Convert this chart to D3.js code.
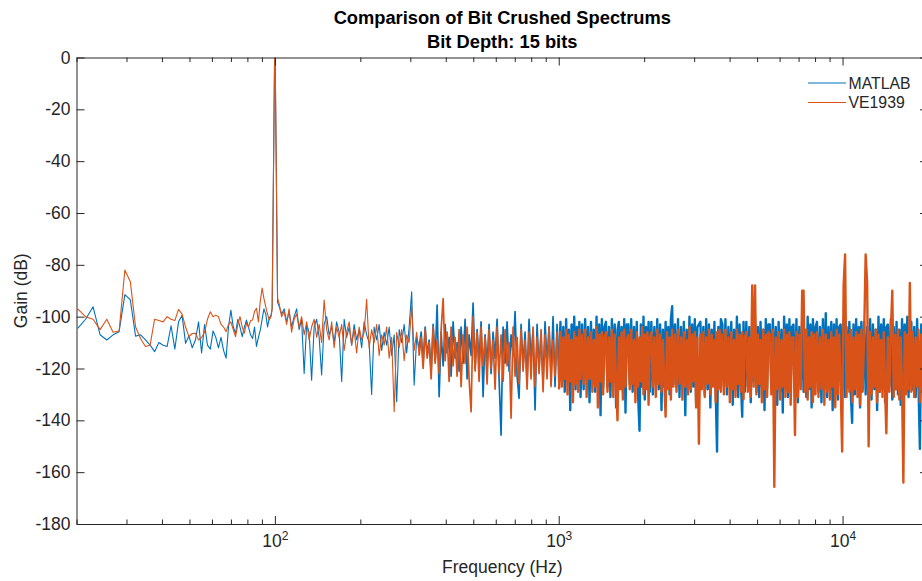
<!DOCTYPE html>
<html>
<head>
<meta charset="utf-8">
<script src="https://cdn.jsdelivr.net/npm/d3@7"></script>
<style>
  body { margin: 0; background: #fff; }
  svg { display: block; font-family: "Liberation Sans", Arial, Helvetica, sans-serif; }
</style>
</head>
<body>
<div id="chart"></div>
<script>
// ---- data ----
const titleLines = ["Comparison of Bit Crushed Spectrums", "Bit Depth: 15 bits"];
const seriesNames = ["MATLAB", "VE1939"];
const seriesColors = ["#0072BD", "#D95319"];

const xMajorTicks = [100, 1000, 10000];
const xMinorTicks = [20, 30, 40, 50, 60, 70, 80, 90, 200, 300, 400, 500, 600, 700, 800, 900,
  2000, 3000, 4000, 5000, 6000, 7000, 8000, 9000, 20000];
const yTicks = [-180, -160, -140, -120, -100, -80, -60, -40, -20, 0];

// 20 Hz .. 102 Hz
const freqLow = [20.19, 21.53, 22.88, 24.22, 25.57, 26.92, 28.26, 29.61, 30.95, 32.30, 33.65, 34.99,
  36.34, 37.68, 39.03, 40.37, 41.72, 43.07, 44.41, 45.76, 47.10, 48.45, 49.79, 51.14, 52.49, 53.83,
  55.18, 56.52, 57.87, 59.22, 60.56, 61.91, 63.25, 64.60, 65.94, 67.29, 68.64, 69.98, 71.33, 72.67,
  74.02, 75.36, 76.71, 78.06, 79.40, 80.75, 82.09, 83.44, 84.79, 86.13, 87.48, 88.82, 90.17, 91.51,
  92.86, 94.21, 95.55, 96.90, 97.8, 99.75, 100.25, 102.2];
const matlabLow = [-104.5, -101, -96.2, -107, -109, -107, -105.8, -91.5, -93.5, -107.5, -107, -109,
  -111, -113.5, -110, -111, -111.5, -103.5, -112.5, -102, -99.5, -110.3, -107.5, -112, -109, -102,
  -114, -103, -111, -112.5, -105.5, -108, -112, -108, -113, -116, -104, -97.5, -104, -106.4,
  -101, -104, -107.7, -104, -101.3, -104, -107, -108.4, -104, -111.5, -108, -105.2, -101, -97,
  -99, -104, -100.5, -99.5, -97, -0.4, -0.4, -94.5];
const ve1939Low = [-97, -100, -101, -105, -101, -106, -105.5, -82, -86.5, -104, -108.5, -111.5,
  -111, -101, -101.5, -102, -100, -101, -101.5, -97.2, -99, -104, -107.7, -106.5, -106.4, -109,
  -108, -106, -101, -98.1, -100, -99.4, -100, -103, -104, -105.8, -103, -102, -105, -107.7,
  -103, -100, -104, -106.4, -102.6, -104, -101.5, -101.3, -98, -96.8, -102, -94, -89, -93,
  -96.2, -99, -101.3, -100, -97, -0.3, -0.3, -93];

// 103 Hz .. 322 Hz
const freqMidA = [103.5, 105.6, 107.8, 110, 112.2, 114.5, 116.9, 119.3, 121.7, 124.2, 126.8, 129.4,
  132, 134.7, 137.5, 140.3, 143.2, 146.1, 149.1, 152.2, 155.3, 158.5, 161.7, 165, 168.4, 171.9,
  175.4, 179, 182.7, 186.4, 190.2, 194.1, 198.1, 202.2, 206.3, 210.5, 214.8, 219.2, 223.7, 228.3,
  233, 237.8, 242.6, 247.6, 252.7, 257.9, 263.2, 268.6, 274.1, 279.7, 285.4, 291.3, 297.2, 303.3,
  309.5, 315.9, 322.3];
const matlabMidA = [-96, -99, -97, -102, -98, -104, -100, -97, -105, -101, -121.9, -103,
  -106, -124.5, -104, -101, -108, -122.5, -103, -100, -107, -104, -110, -102, -106, -125,
  -101, -108, -104, -111, -103, -109, -105, -112, -102, -107, -110, -130, -104, -109,
  -103, -113, -106, -111, -104, -115, -107, -132.8, -105, -110, -103, -114, -104, -90.4,
  -126.4, -108, -112];
const ve1939MidA = [-95, -100, -98, -103, -97, -106, -101, -99, -104, -100, -107, -102,
  -109, -104, -101, -108, -103, -110, -93.6, -105, -109, -102, -112, -104, -108, -103,
  -113, -106, -102, -111, -105, -114, -104, -109, -106, -93.3, -112, -105, -110, -103,
  -115, -107, -111, -104, -116, -108, -136.7, -106, -112, -105, -117, -107, -110, -96,
  -113, -106, -115];

// 327 Hz .. 1 kHz
const freqMidB = [327.6, 332.9, 338.4, 343.9, 349.5, 355.2, 361, 366.9, 372.9, 379, 385.2, 391.5,
  397.9, 404.4, 411, 417.7, 424.5, 431.4, 438.5, 445.7, 453, 460.4, 467.9, 475.5, 483.3, 491.2,
  499.2, 507.4, 515.7, 524.1, 532.7, 541.4, 550.2, 559.2, 568.3, 577.6, 587.1, 596.7, 606.5, 616.4,
  626.5, 636.7, 647.1, 657.7, 668.5, 679.4, 690.5, 701.8, 713.3, 724.9, 736.8, 748.8, 761, 773.5,
  786.1, 799, 812, 825.3, 838.8, 852.5, 866.5, 880.6, 895, 909.7, 924.5, 939.7, 955, 970.6,
  986.5, 1002.6];
const matlabMidB = [-106, -118, -104, -115, -109, -121, -103, -117, -95.5, -130.9, -106, -119,
  -103, -114, -108, -123, -102, -116, -110, -121, -104, -118, -101, -124, -107, -115,
  -94.8, -120, -105, -117, -102, -130.9, -107, -119, -103, -122, -106, -116, -101, -124,
  -145.7, -104, -118, -102, -121, -107, -115, -98, -123, -131.5, -103, -119, -106, -125,
  -101, -117, -105, -136, -103, -120, -107, -126, -102, -118, -104, -122, -100, -127,
  -103, -119];
const ve1939MidB = [-108, -120, -105, -116, -110, -124, -104, -118, -109, -122, -105, -93,
  -117, -106, -125, -104, -119, -108, -123, -105, -127, -107, -118, -104, -124, -136.7,
  -100, -121, -106, -125, -104, -119, -108, -126, -105, -120, -109, -128, -104, -122,
  -107, -125, -105, -119, -110, -139.2, -104, -123, -108, -126, -105, -121, -109, -128,
  -106, -124, -104, -127, -108, -122, -105, -129, -107, -124, -104, -127, -109, -123,
  -106, -128];

// 1 kHz .. 20 kHz
const freqHigh = [
  1014, 1026, 1038, 1050, 1062, 1074, 1086, 1098, 1110, 1122, 1134, 1146, 1158, 1170, 1182, 1194,
  1209, 1224, 1239, 1254, 1269, 1284, 1299, 1314, 1329, 1344, 1359, 1374, 1389, 1404, 1419, 1434, 1449,
  1467, 1485, 1503, 1521, 1539, 1557, 1575, 1593, 1611, 1629, 1647, 1665, 1683, 1701, 1719, 1737,
  1758, 1779, 1800, 1821, 1842, 1863, 1884, 1905, 1926, 1947, 1968, 1989, 2010, 2031, 2052, 2073, 2094,
  2120, 2146, 2172, 2198, 2224, 2250, 2276, 2302, 2328, 2354, 2380, 2406, 2432, 2458, 2484, 2510, 2536,
  2568, 2600, 2632, 2664, 2696, 2728, 2760, 2792, 2824, 2856, 2888, 2920, 2952, 2984, 3016, 3048, 3080,
  3118, 3156, 3194, 3232, 3270, 3308, 3346, 3384, 3422, 3460, 3498, 3536, 3574, 3612, 3650, 3688, 3726,
  3773, 3820, 3867, 3914, 3961, 4008, 4055, 4102, 4149, 4196, 4243, 4290, 4337, 4384, 4431, 4478, 4525,
  4581, 4637, 4693, 4749, 4805, 4861, 4917, 4973, 5029, 5085, 5141, 5197, 5253, 5309, 5365, 5421, 5477,
  5545, 5613, 5681, 5749, 5817, 5885, 5953, 6021, 6089, 6157, 6225, 6293, 6361, 6429, 6497, 6565, 6633,
  6715, 6797, 6879, 6961, 7043, 7125, 7207, 7289, 7371, 7453, 7535, 7617, 7699, 7781, 7863, 7945, 8027,
  8127, 8227, 8327, 8427, 8527, 8627, 8727, 8827, 8927, 9027, 9127, 9227, 9327, 9427, 9527, 9627, 9727,
  9847, 9967, 10087, 10207, 10327, 10447, 10567, 10687, 10807, 10927, 11047, 11167, 11287, 11407, 11527, 11647, 11767,
  11914, 12061, 12208, 12355, 12502, 12649, 12796, 12943, 13090, 13237, 13384, 13531, 13678, 13825, 13972, 14119, 14266,
  14442, 14618, 14794, 14970, 15146, 15322, 15498, 15674, 15850, 16026, 16202, 16378, 16554, 16730, 16906, 17082, 17258,
  17468, 17678, 17888, 18098, 18308, 18518, 18728, 18938, 19148, 19358, 19568, 19778, 19988];
const matlabHigh = [
  -102, -125, -104, -129, -101, -123, -105, -136, -103, -126, -100, -128, -104, -124, -102, -131,
  -103, -128, -101, -124, -104, -133, -102, -126, -105, -129, -100, -125, -103, -138, -101, -127, -104,
  -102, -127, -104, -131, -101, -124, -103, -135, -105, -102, -126, -104, -129, -101, -137, -103,
  -103, -126, -101, -129, -104, -125, -102, -131, -144, -103, -127, -100, -132, -104, -126, -102, -129,
  -102, -130, -104, -125, -101, -128, -103, -136, -105, -127, -102, -124, -104, -130, -101, -96, -126,
  -103, -127, -101, -131, -104, -125, -102, -138, -105, -126, -100, -129, -103, -127, -101, -133, -104,
  -103, -102, -126, -104, -130, -101, -128, -103, -135, -105, -125, -102, -129, -152, -104, -127, -101,
  -103, -127, -101, -130, -104, -126, -102, -134, -105, -128, -100, -131, -103, -126, -138.6, -102, -129,
  -102, -127, -104, -133, -103, -125, -101, -129, -104, -131, -102, -127, -105, -136, -101, -128, -103,
  -103, -128, -101, -126, -104, -134, -102, -129, -105, -137, -100, -127, -103, -131, -101, -126, -104,
  -103, -127, -101, -133, -104, -126, -102, -129, -105, -131, -100, -128, -103, -135, -101, -127, -104,
  -102, -129, -104, -133, -101, -127, -98.7, -131, -104, -128, -102, -136, -103, -127, -101, -132, -104,
  -103, -128, -101, -131, -104, -127, -102, -129, -141, -103, -130, -101, -127, -104, -135, -102, -128,
  -102, -130, -104, -127, -101, -132, -103, -128, -105, -136, -100, -129, -103, -127, -101, -133, -104,
  -103, -127, -101, -132, -104, -128, -102, -130, -105, -134, -101, -127, -103, -129, -100, -131, -104,
  -102, -128, -104, -131, -101, -127, -151, -103, -129, -105, -126, -102, -130];
const ve1939High = [
  -106, -127, -108, -124, -105, -130, -107, -125, -109, -133, -106, -126, -108, -129, -105, -124,
  -107, -126, -105, -131, -108, -124, -106, -129, -109, -127, -104, -135, -107, -125, -106, -130, -108,
  -106, -129, -108, -125, -105, -131, -107, -126, -140, -108, -128, -106, -132, -105, -127, -109,
  -107, -128, -105, -126, -109, -133, -106, -127, -108, -125, -104, -130, -107, -128, -106, -134, -108,
  -106, -127, -108, -131, -105, -126, -107, -129, -109, -125, -138.6, -106, -128, -108, -132, -105, -127,
  -107, -129, -105, -126, -108, -132, -106, -127, -109, -130, -104, -128, -107, -125, -106, -135, -108,
  -149, -107, -128, -106, -131, -108, -126, -105, -130, -107, -127, -109, -133, -106, -128, -105, -129,
  -107, -130, -105, -127, -108, -133, -106, -128, -109, -131, -105, -126, -107, -129, -106, -132, -108,
  -106, -129, -108, -131, -88, -127, -88, -130, -107, -126, -109, -133, -105, -128, -107, -131, -106,
  -107, -130, -105, -165.6, -108, -128, -106, -132, -109, -127, -105, -131, -107, -129, -106, -134, -108,
  -108, -145.7, -106, -131, -107, -128, -90, -90, -129, -105, -132, -108, -127, -106, -133, -107, -130,
  -106, -131, -108, -128, -105, -134, -107, -129, -109, -132, -106, -127, -108, -135, -105, -130, -107,
  -126, -152, -88, -76, -131, -107, -129, -105, -133, -108, -128, -106, -131, -107, -134, -105, -129,
  -107, -76, -87, -150, -106, -130, -108, -127, -105, -133, -107, -129, -109, -131, -106, -128, -145,
  -108, -129, -106, -90, -131, -107, -128, -105, -132, -108, -127, -164, -106, -130, -107, -128, -87,
  -129, -106, -131, -108, -127, -105, -133, -107, -128, -109, -130, -106, -127];

// ---- layout ----
const margin = { top: 57.5, right: -6, bottom: 57, left: 76.5 };
const size = { width: 922, height: 581 };
const width = size.width - margin.left - margin.right;
const height = size.height - margin.top - margin.bottom;
const axisColor = "#262626";

const x = d3.scaleLog().domain([20, 20000]).range([0, width]);
const y = d3.scaleLinear().domain([-180, 0]).range([height, 0]);

// the spectrum is far denser than the points we keep, so the busy parts get a wider pen
const segments = [
  { freqs: freqLow.concat(freqMidA), gains: [matlabLow.concat(matlabMidA), ve1939Low.concat(ve1939MidA)], pen: 1.1 },
  { freqs: freqMidB, gains: [matlabMidB, ve1939MidB], pen: 1.7 },
  { freqs: freqHigh, gains: [matlabHigh, ve1939High], pen: 2.4 }
];

const toPoints = (fs, gs) => fs.map((f, j) => ({ f: f, g: gs[j] })).filter(d => d.g !== undefined);

const series = seriesNames.map((name, i) => ({
  name: name,
  color: seriesColors[i],
  parts: segments.map((s, k) => {
    let pts = toPoints(s.freqs, s.gains[i]);
    if (k > 0) {
      // join onto the last point of the previous segment
      const prev = segments[k - 1];
      const n = prev.freqs.length - 1;
      pts = [{ f: prev.freqs[n], g: prev.gains[i][n] }].concat(pts);
    }
    return { pen: s.pen, values: pts };
  })
}));

const svg = d3.select("#chart").append("svg")
  .attr("width", size.width)
  .attr("height", size.height)
  .style("overflow", "hidden");

const g = svg.append("g")
  .attr("transform", `translate(${margin.left},${margin.top})`);

g.append("clipPath").attr("id", "plotClip")
  .append("rect").attr("x", 0).attr("y", -1).attr("width", width).attr("height", height + 1);

// lines
const line = d3.line()
  .x(d => x(d.f))
  .y(d => y(d.g));

g.append("g").attr("clip-path", "url(#plotClip)")
  .selectAll("g")
  .data(series)
  .join("g")
  .attr("stroke", d => d.color)
  .selectAll("path")
  .data(d => d.parts)
  .join("path")
  .attr("fill", "none")
  .attr("stroke-width", d => d.pen)
  .attr("stroke-linejoin", "round")
  .attr("d", d => line(d.values));

// axes (MATLAB style: box, ticks inside)
function styleAxis(sel) {
  sel.selectAll("path.domain").attr("stroke", axisColor);
  sel.selectAll(".tick line").attr("stroke", axisColor);
  sel.selectAll(".tick text").attr("fill", axisColor).style("font-size", "17.5px");
}

// bottom
const gx = g.append("g")
  .attr("transform", `translate(0,${height})`)
  .call(d3.axisBottom(x).tickValues(xMajorTicks).tickSizeInner(-8).tickSizeOuter(0).tickPadding(10.5))
  .call(styleAxis);
gx.selectAll(".tick text").text(null)
  .call(t => {
    t.append("tspan").text("10");
    t.append("tspan").attr("dy", "-0.55em").style("font-size", "12px").text(d => Math.round(Math.log10(d)));
  });
g.append("g")
  .attr("transform", `translate(0,${height})`)
  .call(d3.axisBottom(x).tickValues(xMinorTicks).tickSizeInner(-4.5).tickSizeOuter(0).tickFormat(""))
  .call(styleAxis)
  .select(".domain").remove();

// top
g.append("g")
  .call(d3.axisTop(x).tickValues(xMajorTicks).tickSizeInner(-8).tickSizeOuter(0).tickFormat(""))
  .call(styleAxis);
g.append("g")
  .call(d3.axisTop(x).tickValues(xMinorTicks).tickSizeInner(-4.5).tickSizeOuter(0).tickFormat(""))
  .call(styleAxis)
  .select(".domain").remove();

// left
g.append("g")
  .call(d3.axisLeft(y).tickValues(yTicks).tickSizeInner(-8).tickSizeOuter(0).tickPadding(6)
    .tickFormat(d => String(d)))
  .call(styleAxis);

// right
g.append("g")
  .attr("transform", `translate(${width},0)`)
  .call(d3.axisRight(y).tickValues(yTicks).tickSizeInner(-8).tickSizeOuter(0).tickFormat(""))
  .call(styleAxis);

// axis labels
g.append("text")
  .attr("x", width / 2)
  .attr("y", height + 49)
  .attr("text-anchor", "middle")
  .attr("fill", axisColor)
  .style("font-size", "17.5px")
  .text("Frequency (Hz)");

g.append("text")
  .attr("transform", `translate(${-49.5},${height / 2}) rotate(-90)`)
  .attr("text-anchor", "middle")
  .attr("fill", axisColor)
  .style("font-size", "17.5px")
  .text("Gain (dB)");

// title
svg.append("g")
  .selectAll("text")
  .data(titleLines)
  .join("text")
  .attr("x", margin.left + width / 2)
  .attr("y", (d, i) => 24 + i * 23.5)
  .attr("text-anchor", "middle")
  .attr("fill", "#000")
  .style("font-size", "18.3px")
  .style("font-weight", "bold")
  .text(d => d);

// legend
const legend = svg.append("g").attr("transform", "translate(808,83)");
const legendItem = legend.selectAll("g")
  .data(series)
  .join("g")
  .attr("transform", (d, i) => `translate(0,${i * 19.5})`);
legendItem.append("line")
  .attr("x1", 0).attr("x2", 38)
  .attr("stroke", d => d.color)
  .attr("stroke-width", 1.1);
legendItem.append("text")
  .attr("x", 40.5)
  .attr("dy", "0.36em")
  .attr("fill", axisColor)
  .style("font-size", "15.8px")
  .text(d => d.name);
</script>
</body>
</html>
